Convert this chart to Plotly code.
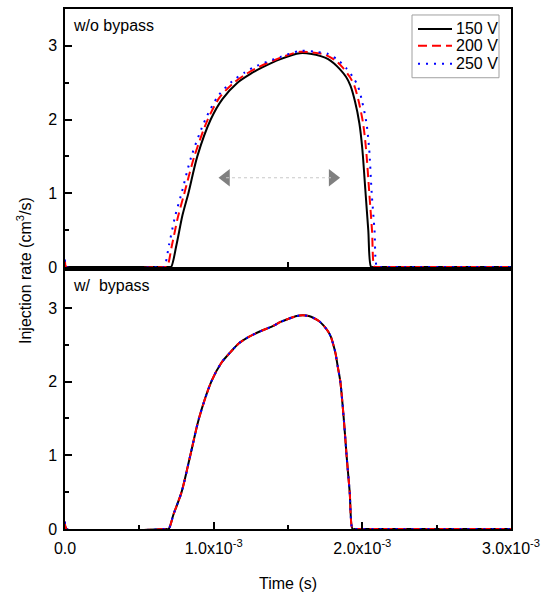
import plotly.graph_objects as go

# ---------- data (time in s, injection rate in cm^3/s) ----------
series_names = ["150 V", "200 V", "250 V"]

t_150_top = [0, 0.70e-3, 0.714e-3, 0.75e-3, 0.79e-3, 0.83e-3, 0.89e-3, 0.98e-3, 1.06e-3, 1.16e-3,
             1.24e-3, 1.32e-3, 1.45e-3, 1.58e-3, 1.66e-3, 1.72e-3, 1.77e-3, 1.81e-3, 1.85e-3, 1.89e-3, 1.92e-3,
             1.95e-3, 1.98e-3, 2.00e-3, 2.02e-3, 2.04e-3, 2.059e-3, 2.08e-3, 3.0e-3]
v_150_top = [0, 0, 0, 0.3, 0.7, 1.0, 1.5, 2.0, 2.28, 2.5,
             2.61, 2.7, 2.82, 2.90, 2.89, 2.86, 2.82, 2.76, 2.68, 2.58, 2.46,
             2.25, 1.95, 1.6, 1.05, 0.5, 0, 0, 0]

t_200_top = [0, 0.01e-3, 0.67e-3, 0.686e-3, 0.72e-3, 0.76e-3, 0.803e-3, 0.87e-3, 0.96e-3, 1.04e-3, 1.136e-3,
             1.22e-3, 1.30e-3, 1.45e-3, 1.58e-3, 1.66e-3, 1.75e-3, 1.82e-3, 1.87e-3, 1.915e-3, 1.946e-3,
             1.975e-3, 2.005e-3, 2.025e-3, 2.047e-3, 2.065e-3, 2.082e-3, 2.10e-3, 3.0e-3]
v_200_top = [0.08, 0, 0, 0, 0.3, 0.68, 1.0, 1.5, 2.0, 2.3, 2.5,
             2.62, 2.71, 2.84, 2.92, 2.91, 2.88, 2.8, 2.7, 2.58, 2.46,
             2.25, 1.95, 1.6, 1.0, 0.5, 0, 0, 0]

t_250_top = [0, 0.01e-3, 0.65e-3, 0.667e-3, 0.70e-3, 0.74e-3, 0.784e-3, 0.85e-3, 0.944e-3, 1.03e-3, 1.125e-3,
             1.21e-3, 1.29e-3, 1.45e-3, 1.58e-3, 1.68e-3, 1.77e-3, 1.84e-3, 1.89e-3, 1.935e-3, 1.969e-3,
             1.998e-3, 2.028e-3, 2.046e-3, 2.063e-3, 2.082e-3, 2.099e-3, 2.12e-3, 3.0e-3]
v_250_top = [0.1, 0, 0, 0, 0.3, 0.68, 1.0, 1.5, 2.0, 2.32, 2.52,
             2.64, 2.73, 2.85, 2.93, 2.92, 2.89, 2.8, 2.7, 2.58, 2.46,
             2.25, 1.95, 1.6, 1.0, 0.5, 0, 0, 0]

t_bottom = [0, 0.01e-3, 0.68e-3, 0.697e-3, 0.73e-3, 0.784e-3, 0.843e-3, 0.901e-3, 0.984e-3, 1.05e-3, 1.113e-3,
            1.17e-3, 1.23e-3, 1.31e-3, 1.394e-3, 1.45e-3, 1.50e-3, 1.559e-3, 1.60e-3, 1.64e-3, 1.676e-3,
            1.71e-3, 1.74e-3, 1.77e-3, 1.79e-3, 1.805e-3, 1.82e-3, 1.835e-3, 1.852e-3, 1.875e-3,
            1.894e-3, 1.915e-3, 1.934e-3, 1.95e-3, 3.0e-3]
v_bottom = [0.1, 0, 0, 0, 0.2, 0.5, 1.0, 1.5, 2.0, 2.25, 2.4,
            2.52, 2.6, 2.68, 2.75, 2.81, 2.85, 2.89, 2.9, 2.89, 2.86,
            2.82, 2.76, 2.68, 2.6, 2.5, 2.38, 2.2, 2.0, 1.5,
            1.0, 0.5, 0, 0, 0]

x_tickvals = [0, 1e-3, 2e-3, 3e-3]
x_ticktext = ["0.0", "1.0x10<sup>-3</sup>", "2.0x10<sup>-3</sup>", "3.0x10<sup>-3</sup>"]
y_tickvals = [0, 1, 2, 3]
y_ticktext = ["0", "1", "2", "3"]

arrow_t = [1.083e-3, 1.80e-3]
arrow_v = 1.21

# ---------- styles ----------
FONT = "Liberation Sans, Arial, sans-serif"
FS = 16
styles = [dict(color="#000000", dash="solid", width=2),
          dict(color="#ff0000", dash="9px,5px", width=2),
          dict(color="#0000ff", dash="2px,6px", width=2)]

fig = go.Figure()

top_data = [(t_150_top, v_150_top), (t_200_top, v_200_top), (t_250_top, v_250_top)]
for name, (tx, vy), st in zip(series_names, top_data, styles):
    fig.add_trace(go.Scatter(x=tx, y=vy, mode="lines", name=name, showlegend=False,
                             line=dict(color=st["color"], dash=st["dash"], width=st["width"],
                                       shape="spline", smoothing=0.8),
                             xaxis="x", yaxis="y"))

for name, st in zip(series_names, styles):
    fig.add_trace(go.Scatter(x=t_bottom, y=v_bottom, mode="lines", name=name, showlegend=False,
                             line=dict(color=st["color"], dash=st["dash"], width=st["width"],
                                       shape="spline", smoothing=0.8),
                             xaxis="x2", yaxis="y2"))

# double arrow in top panel
fig.add_shape(type="line", xref="x", yref="y", x0=arrow_t[0], x1=arrow_t[1], y0=arrow_v, y1=arrow_v,
              line=dict(color="#c8c8c8", width=1, dash="dot"))
fig.add_trace(go.Scatter(x=arrow_t, y=[arrow_v, arrow_v], mode="markers", showlegend=False,
                         marker=dict(symbol=["triangle-left", "triangle-right"], size=15,
                                     color="#808080", line=dict(width=0)),
                         xaxis="x", yaxis="y", hoverinfo="skip"))

# ---------- manual legend (paper coords of the plot area: x 65..511 px, y 7..529 px) ----------
def px_x(p):
    return (p - 65) / 446.0

def px_y(p):
    return (529 - p) / 522.0

fig.add_shape(type="rect", xref="paper", yref="paper",
              x0=px_x(412), x1=px_x(499), y0=px_y(76), y1=px_y(13),
              line=dict(color="#a0a0a0", width=1), fillcolor="white", layer="above")
row_y = [27, 44, 62]
for name, st, ry in zip(series_names, styles, row_y):
    fig.add_shape(type="line", xref="paper", yref="paper",
                  x0=px_x(418), x1=px_x(452), y0=px_y(ry), y1=px_y(ry),
                  line=dict(color=st["color"], dash=st["dash"], width=st["width"]), layer="above")
    fig.add_annotation(text=name, xref="paper", yref="paper", x=px_x(454), y=px_y(ry),
                       xanchor="left", yanchor="middle", showarrow=False, font=dict(size=FS))

axis_common = dict(showline=True, linecolor="#000000", linewidth=1.5, mirror=True,
                   showgrid=False, zeroline=False)

fig.update_layout(
    width=547, height=597,
    margin=dict(l=65, r=36, t=7, b=68),
    paper_bgcolor="white", plot_bgcolor="white",
    font=dict(family=FONT, size=FS, color="#000000"),
    showlegend=False,
    xaxis=dict(domain=[0, 1], anchor="y", range=[0, 3e-3], showticklabels=False,
               tickmode="array", tickvals=[1.5e-3], ticks="inside", ticklen=5,
               tickcolor="#000000", tickwidth=1.5, **axis_common),
    yaxis=dict(domain=[0.504, 1], anchor="x", range=[0, 3.5],
               tickmode="array", tickvals=y_tickvals, ticktext=y_ticktext,
               ticks="inside", ticklen=7, tickcolor="#000000", tickwidth=1.5, ticklabelstandoff=3,
               minor=dict(ticks="inside", ticklen=4, dtick=0.5, tick0=0, tickcolor="#000000", tickwidth=1.5),
               tickfont=dict(size=FS), **axis_common),
    xaxis2=dict(domain=[0, 1], anchor="y2", range=[0, 3e-3],
                tickmode="array", tickvals=x_tickvals, ticktext=x_ticktext,
                ticks="inside", ticklen=7, tickcolor="#000000", tickwidth=1.5, ticklabelstandoff=4,
                minor=dict(ticks="inside", ticklen=4, dtick=0.5e-3, tick0=0, tickcolor="#000000", tickwidth=1.5),
                tickfont=dict(size=FS),
                title=dict(text="Time (s)", font=dict(size=FS), standoff=22), **axis_common),
    yaxis2=dict(domain=[0, 0.496], anchor="x2", range=[0, 3.5],
                tickmode="array", tickvals=y_tickvals, ticktext=y_ticktext,
                ticks="inside", ticklen=7, tickcolor="#000000", tickwidth=1.5, ticklabelstandoff=3,
                minor=dict(ticks="inside", ticklen=4, dtick=0.5, tick0=0, tickcolor="#000000", tickwidth=1.5),
                tickfont=dict(size=FS), **axis_common),
)

fig.add_annotation(text="w/o bypass", xref="paper", yref="paper", x=px_x(71), y=px_y(24),
                   xanchor="left", yanchor="middle", showarrow=False, font=dict(size=FS))
fig.add_annotation(text="w/  bypass", xref="paper", yref="paper", x=px_x(71), y=px_y(285),
                   xanchor="left", yanchor="middle", showarrow=False, font=dict(size=FS))
fig.add_annotation(text="Injection rate (cm<sup>3</sup>/s)", xref="paper", yref="paper",
                   x=px_x(24), y=px_y(270), xanchor="center", yanchor="middle", textangle=-90,
                   showarrow=False, font=dict(size=FS))

fig.write_html("out.html")
